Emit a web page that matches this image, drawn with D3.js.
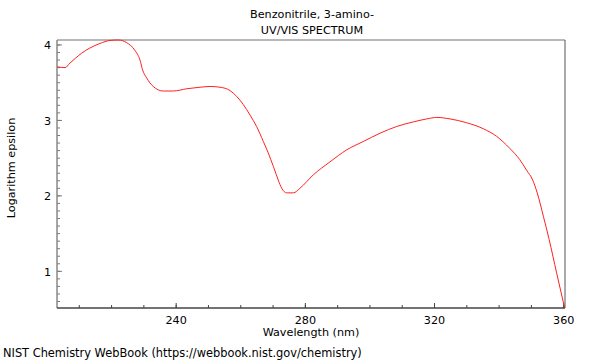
<!DOCTYPE html>
<html><head><meta charset="utf-8">
<script src="https://cdn.jsdelivr.net/npm/d3@7"></script>
<style>body{margin:0;background:#fff}svg{display:block;font-family:"DejaVu Sans",sans-serif}</style>
</head><body><svg id="c" width="600" height="360"></svg>
<script>
const title1 = "Benzonitrile, 3-amino-";
const title2 = "UV/VIS SPECTRUM";
const xLabel = "Wavelength (nm)";
const yLabel = "Logarithm epsilon";
const footer = "NIST Chemistry WebBook (https://webbook.nist.gov/chemistry)";
const xTicks = [240, 280, 320, 360];
const yTicks = [1, 2, 3, 4];
const wavelength = [203.2,205.6,207.1,208.7,210.7,213.3,216.4,219.5,222.1,224.7,227.2,228.8,229.6,230.9,232.9,236.0,239.1,243.3,247.4,250.5,253.6,256.7,258.7,260.8,262.9,264.9,267.0,268.5,270.1,271.6,272.7,274.2,276.3,278.3,282.5,287.6,292.8,297.9,303.1,308.3,313.4,317.6,320.7,324.8,329.9,335.1,339.2,343.3,346.4,348.5,350.4,351.8,353.7,355.5,357.8,360.2];
const logEps = [3.71,3.70,3.76,3.82,3.89,3.96,4.02,4.06,4.066,4.03,3.93,3.80,3.67,3.56,3.45,3.39,3.39,3.42,3.44,3.45,3.44,3.395,3.32,3.21,3.07,2.92,2.72,2.57,2.39,2.21,2.10,2.04,2.04,2.10,2.28,2.45,2.61,2.72,2.83,2.92,2.98,3.02,3.04,3.02,2.97,2.89,2.79,2.63,2.48,2.34,2.21,2.04,1.73,1.42,0.98,0.53];

const svg = d3.select("#c");
const L = 57, R = 565, T = 40, B = 308;
const x = d3.scaleLinear().domain([203.1, 360.4]).range([L, R]);
const y = d3.scaleLinear().domain([0.514, 4.066]).range([B, T]);

// titles
svg.append("text").attr("x", 312).attr("y", 18).attr("text-anchor", "middle").attr("font-size", 11.2).text(title1);
svg.append("text").attr("x", 312).attr("y", 34).attr("text-anchor", "middle").attr("font-size", 11.2).text(title2);

// frame
svg.append("line").attr("x1", L).attr("x2", R).attr("y1", T).attr("y2", T).attr("stroke", "#a0a0a0").attr("stroke-width", 1.5);
svg.append("line").attr("x1", R).attr("x2", R).attr("y1", T).attr("y2", B).attr("stroke", "#555").attr("stroke-width", 1);

// minor ticks
const xMinor = d3.range(210, 361, 10);
const yMinor = d3.range(6, 41).map(d => d / 10);
const gx = svg.append("g");
gx.selectAll("line.mx").data(xMinor).join("line").attr("x1", d => x(d)).attr("x2", d => x(d)).attr("y1", B).attr("y2", B - 3).attr("stroke", "#444");
gx.selectAll("line.Mx").data(xTicks).join("line").attr("x1", d => x(d)).attr("x2", d => x(d)).attr("y1", B).attr("y2", B - 5).attr("stroke", "#444");
gx.selectAll("text").data(xTicks).join("text").attr("x", d => x(d)).attr("y", 324).attr("text-anchor", "middle").attr("font-size", 11.2).text(d => d);
const gy = svg.append("g");
gy.selectAll("line.my").data(yMinor).join("line").attr("x1", L).attr("x2", L + 3).attr("y1", d => y(d)).attr("y2", d => y(d)).attr("stroke", "#777");
gy.selectAll("line.My").data(yTicks).join("line").attr("x1", L).attr("x2", L + 5).attr("y1", d => y(d)).attr("y2", d => y(d)).attr("stroke", "#777");
gy.selectAll("text").data(yTicks).join("text").attr("x", 51).attr("y", d => y(d) + 4.2).attr("text-anchor", "end").attr("font-size", 11.2).text(d => d);

svg.append("line").attr("x1", L).attr("x2", L).attr("y1", T).attr("y2", B).attr("stroke", "#888").attr("stroke-width", 1.5);
svg.append("line").attr("x1", L).attr("x2", R).attr("y1", B).attr("y2", B).attr("stroke", "#444").attr("stroke-width", 1.5);

// curve
const pts = wavelength.map((w, i) => [w, logEps[i]]);
svg.append("path").datum(pts)
  .attr("d", d3.line().x(d => x(d[0])).y(d => y(d[1])).curve(d3.curveMonotoneX))
  .attr("fill", "none").attr("stroke", "#ff2020").attr("stroke-width", 1);

// labels
svg.append("text").attr("x", 311).attr("y", 336).attr("text-anchor", "middle").attr("font-size", 11.2).text(xLabel);
svg.append("text").attr("transform", "translate(15,168) rotate(-90)").attr("text-anchor", "middle").attr("font-size", 11.2).text(yLabel);
svg.append("text").attr("x", 3).attr("y", 357).attr("font-size", 11.4).text(footer);
</script></body></html>
